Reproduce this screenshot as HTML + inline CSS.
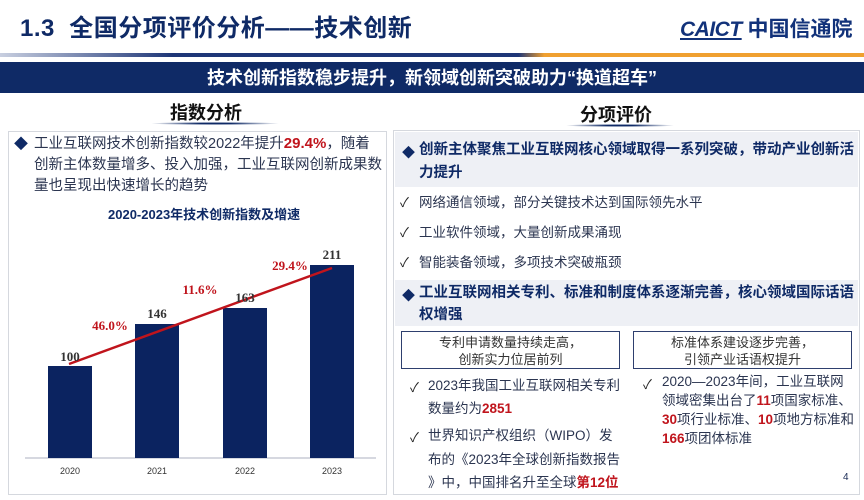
<!DOCTYPE html>
<html><head><meta charset="utf-8"><style>
*{margin:0;padding:0;box-sizing:border-box}
body{width:864px;height:500px;overflow:hidden;background:#fff;position:relative;font-family:"Liberation Sans","Noto Sans CJK SC",sans-serif;color:#1a2a55}
.a{position:absolute;white-space:nowrap}
.red{color:#c0141c;font-weight:bold}
.t14{font-size:14.5px;color:#2b3550}
.chk{font-size:13px;color:#222}
</style></head><body>
<div class="a" style="left:20px;top:8px;font-size:24px;font-weight:bold;color:#0f2a66;letter-spacing:0.5px">1.3&nbsp; 全国分项评价分析——技术创新</div>
<div class="a" style="left:680px;top:13px;font-size:21px;font-weight:bold;color:#12327a"><span style="font-style:italic;text-decoration:underline;letter-spacing:-0.5px">CAICT</span> 中国信通院</div>
<div class="a" style="left:0;top:53px;width:864px;height:4px;background:linear-gradient(90deg,#c8cfe0 0%,#1e3677 20%,#1e3677 60%,#f0a030 63%,#f0a030 100%)"></div>
<div class="a" style="left:0;top:62px;width:864px;height:31px;background:#0f2a66"></div>
<div class="a" style="left:0;top:64px;width:864px;text-align:center;font-size:18px;font-weight:bold;color:#fff">技术创新指数稳步提升，新领域创新突破助力“换道超车”</div>
<div class="a" style="left:170px;top:99px;font-size:18px;font-weight:bold;color:#111">指数分析</div>
<div class="a" style="left:150px;top:122px;width:130px;height:3px;background:radial-gradient(ellipse,#0f2a66 20%,rgba(15,42,102,0) 70%)"></div>
<div class="a" style="left:580px;top:101px;font-size:18px;font-weight:bold;color:#111">分项评价</div>
<div class="a" style="left:565px;top:124px;width:110px;height:3px;background:radial-gradient(ellipse,#0f2a66 20%,rgba(15,42,102,0) 70%)"></div>

<div class="a" style="left:8px;top:131px;width:379px;height:364px;border:1.5px solid #d5d8de"></div>
<div class="a" style="left:14px;top:134px;font-size:14px;color:#0f2a66">◆</div>
<div class="a t14" style="left:34px;top:133px;line-height:21px">工业互联网技术创新指数较2022年提升<span class="red" style="font-size:15px">29.4%</span>，随着<br>创新主体数量增多、投入加强，工业互联网创新成果数<br>量也呈现出快速增长的趋势</div>
<div class="a" style="left:108px;top:204px;font-size:13px;font-weight:bold;color:#0f2a66">2020-2023年技术创新指数及增速</div>

<svg class="a" style="left:0;top:0" width="400" height="500">
<line x1="25" y1="458" x2="376" y2="458" stroke="#c8cbd6" stroke-width="1.5"/>
<rect x="48" y="366" width="44" height="92" fill="#0b2360"/>
<rect x="135" y="324" width="44" height="134" fill="#0b2360"/>
<rect x="223" y="308" width="44" height="150" fill="#0b2360"/>
<rect x="310" y="265" width="44" height="193" fill="#0b2360"/>
<line x1="69" y1="364" x2="332" y2="268" stroke="#c0141c" stroke-width="2.5"/>
<g font-family="Liberation Serif,serif" font-weight="bold" font-size="13" fill="#333" text-anchor="middle">
<text x="70" y="361">100</text><text x="157" y="318">146</text><text x="245" y="302">163</text><text x="332" y="259">211</text>
</g>
<g font-family="Liberation Serif,serif" font-weight="bold" font-size="13" fill="#c0141c" text-anchor="middle">
<text x="110" y="330">46.0%</text><text x="200" y="294">11.6%</text><text x="290" y="270">29.4%</text>
</g>
<g font-size="9" fill="#333" text-anchor="middle" font-family="Liberation Sans,sans-serif">
<text x="70" y="474">2020</text><text x="157" y="474">2021</text><text x="245" y="474">2022</text><text x="332" y="474">2023</text>
</g>
</svg>

<div class="a" style="left:393px;top:130px;width:467px;height:365px;border:1.5px solid #d5d8de"></div>
<div class="a" style="left:395px;top:132px;width:463px;height:55px;background:#eef0f5"></div>
<div class="a" style="left:402px;top:142px;font-size:13px;color:#0f2a66">◆</div>
<div class="a" style="left:419px;top:139px;font-size:14.5px;font-weight:bold;color:#0f2a66;line-height:23px">创新主体聚焦工业互联网核心领域取得一系列突破，带动产业创新活<br>力提升</div>
<div class="a chk" style="left:400px;top:192px">✓</div><div class="a t14" style="left:419px;top:191px;font-size:13.5px">网络通信领域，部分关键技术达到国际领先水平</div>
<div class="a chk" style="left:400px;top:222px">✓</div><div class="a t14" style="left:419px;top:221px;font-size:13.5px">工业软件领域，大量创新成果涌现</div>
<div class="a chk" style="left:400px;top:252px">✓</div><div class="a t14" style="left:419px;top:251px;font-size:13.5px">智能装备领域，多项技术突破瓶颈</div>
<div class="a" style="left:395px;top:280px;width:463px;height:46px;background:#eef0f5"></div>
<div class="a" style="left:402px;top:285px;font-size:13px;color:#0f2a66">◆</div>
<div class="a" style="left:419px;top:282px;font-size:14.5px;font-weight:bold;color:#0f2a66;line-height:22px">工业互联网相关专利、标准和制度体系逐渐完善，核心领域国际话语<br>权增强</div>
<div class="a" style="left:401px;top:331px;width:219px;height:38px;border:1.5px solid #2e3f6e;text-align:center;font-size:13px;line-height:17px;padding-top:2px;color:#333">专利申请数量持续走高，<br>创新实力位居前列</div>
<div class="a" style="left:633px;top:331px;width:219px;height:38px;border:1.5px solid #2e3f6e;text-align:center;font-size:13px;line-height:17px;padding-top:2px;color:#333">标准体系建设逐步完善，<br>引领产业话语权提升</div>
<div class="a chk" style="left:410px;top:377px">✓</div>
<div class="a t14" style="left:428px;top:374px;font-size:13.5px;line-height:23px">2023年我国工业互联网相关专利<br>数量约为<span class="red">2851</span></div>
<div class="a chk" style="left:410px;top:427px">✓</div>
<div class="a t14" style="left:428px;top:424px;font-size:13.5px;line-height:23.5px">世界知识产权组织（WIPO）发<br>布的《2023年全球创新指数报告<br>》中，中国排名升至全球<span class="red">第12位</span></div>
<div class="a chk" style="left:643px;top:374px">✓</div>
<div class="a t14" style="left:662px;top:372px;font-size:13.5px;line-height:19px">2020—2023年间，工业互联网<br>领域密集出台了<span class="red">11</span>项国家标准、<br><span class="red">30</span>项行业标准、<span class="red">10</span>项地方标准和<br><span class="red">166</span>项团体标准</div>
<div class="a" style="left:843px;top:472px;font-size:10px;color:#1a2a55">4</div>
</body></html>
